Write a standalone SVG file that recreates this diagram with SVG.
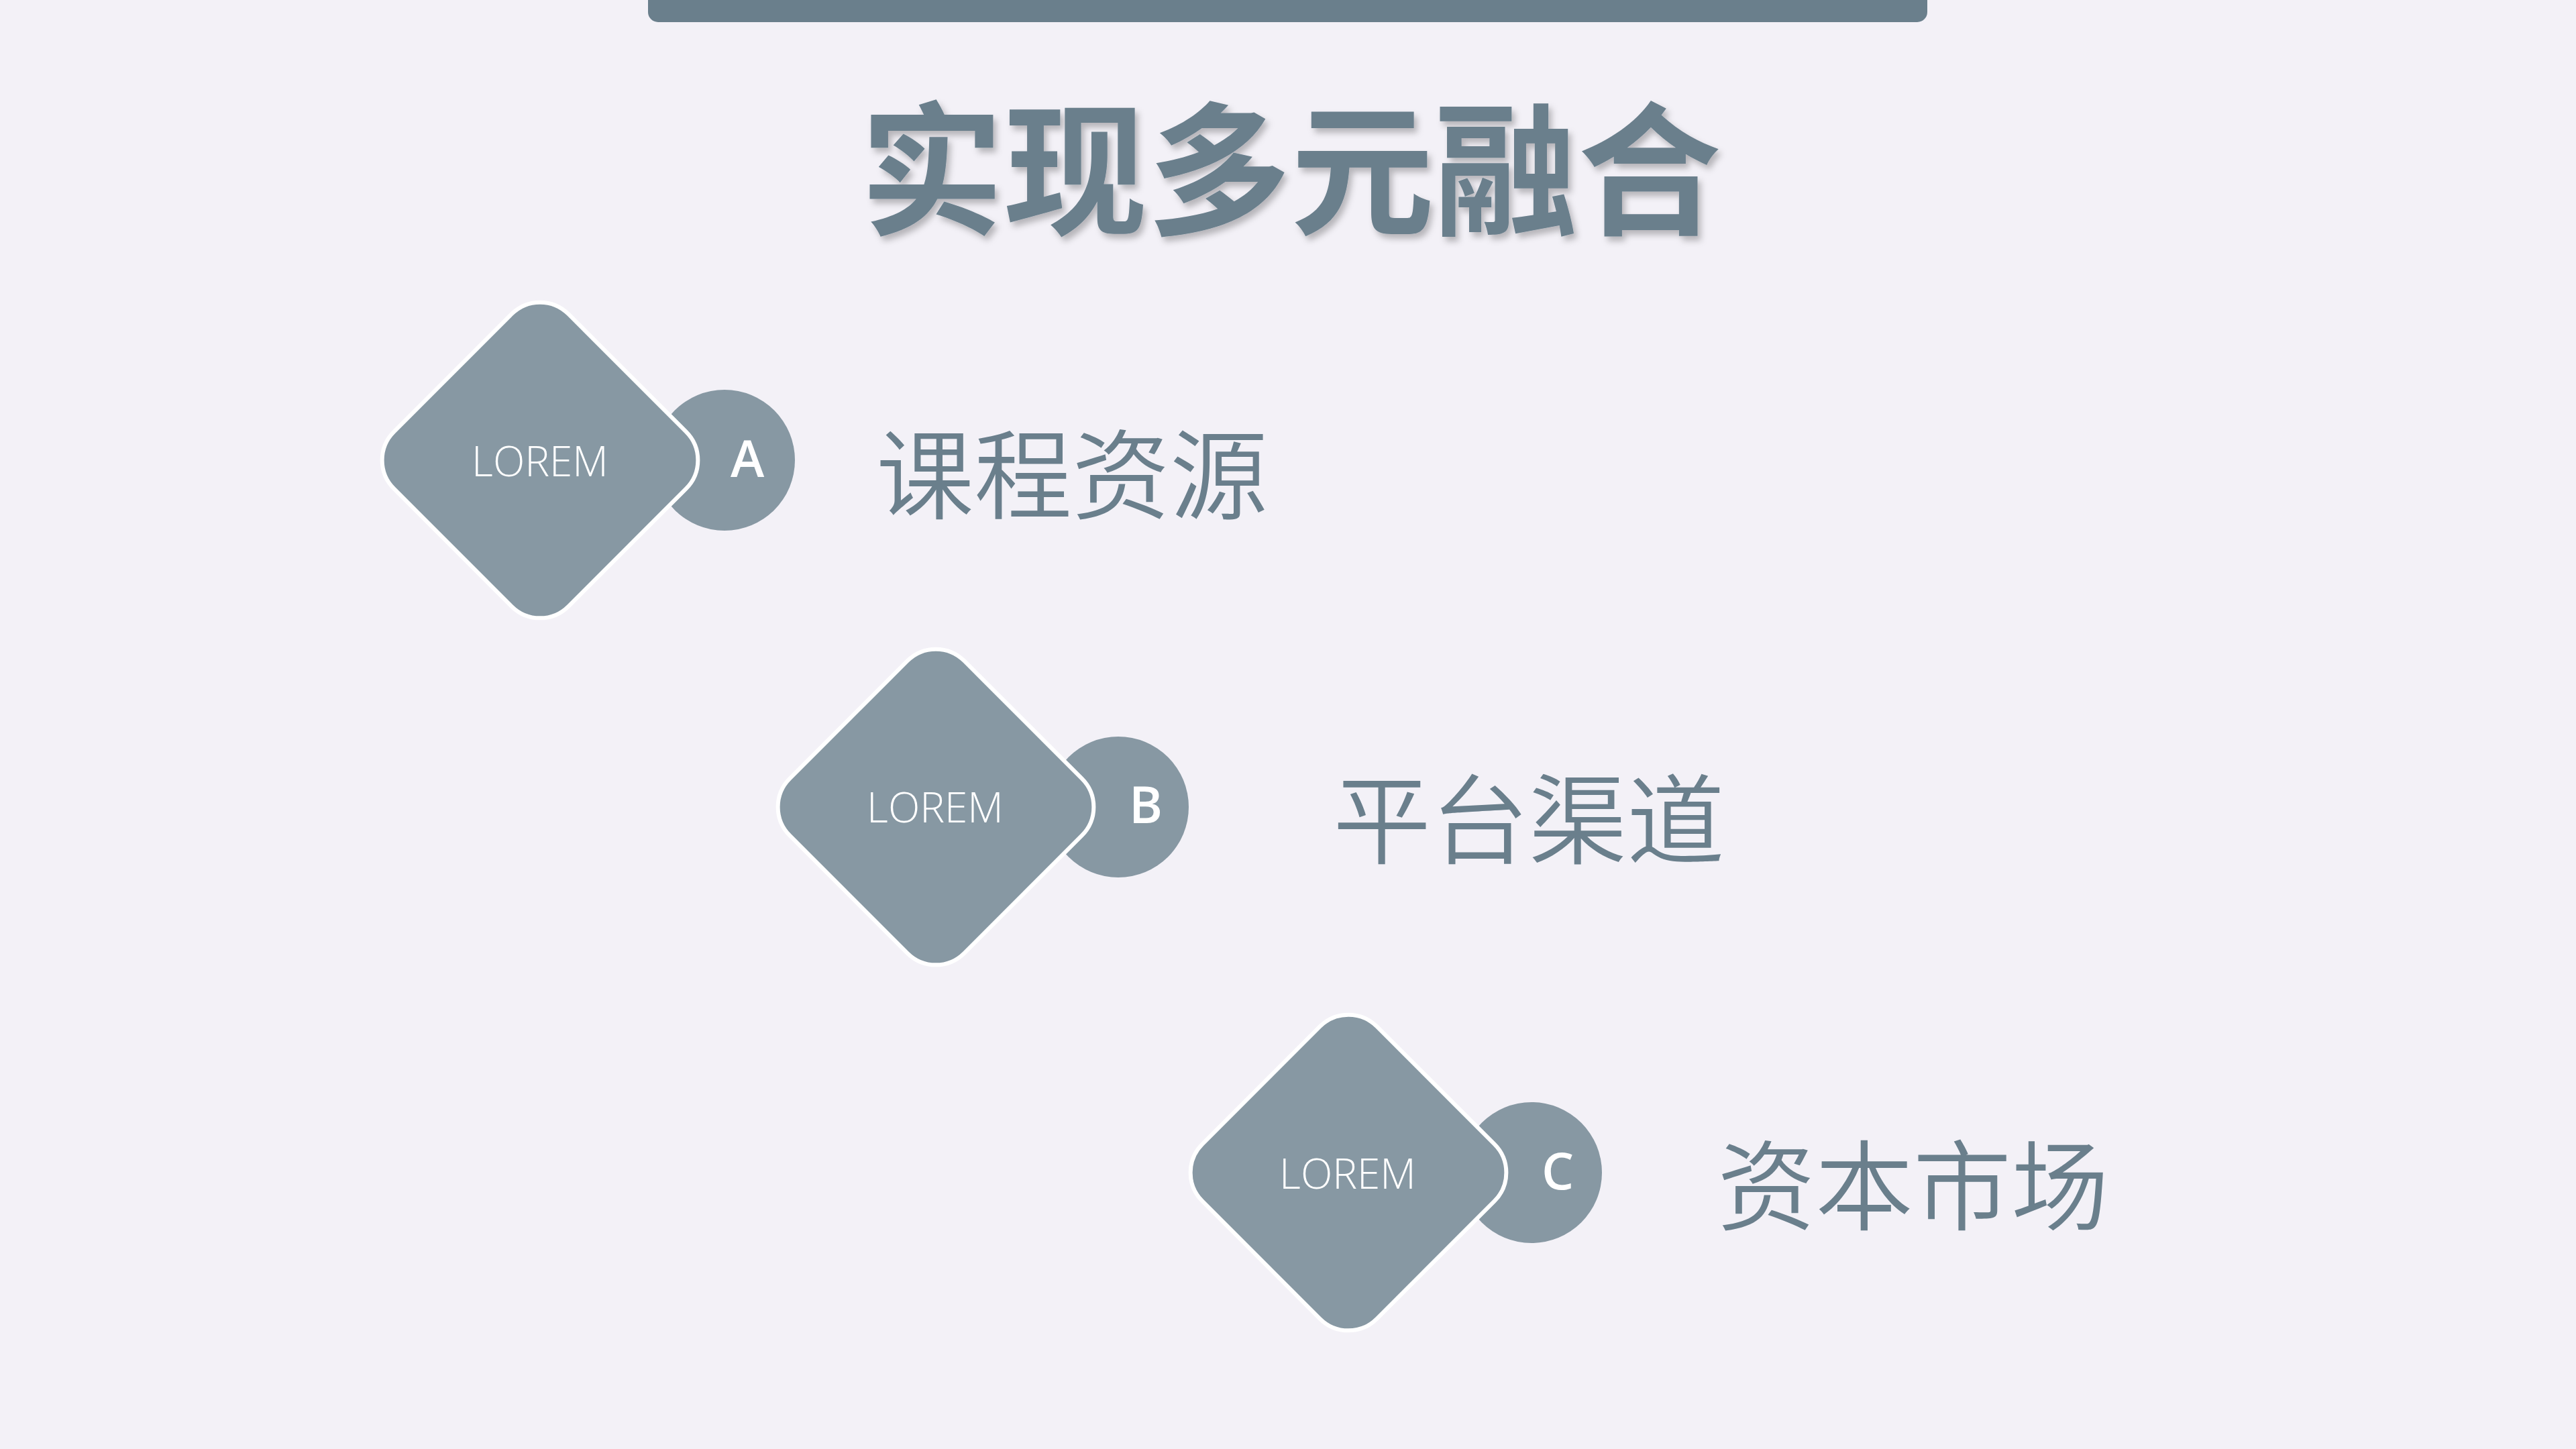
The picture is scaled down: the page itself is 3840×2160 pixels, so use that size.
<svg xmlns="http://www.w3.org/2000/svg" width="3840" height="2160" viewBox="0 0 3840 2160">
<defs>
<filter id="sh" x="-10%" y="-20%" width="120%" height="150%">
<feDropShadow dx="5" dy="7" stdDeviation="5" flood-color="#000" flood-opacity="0.25"/>
</filter>
<style>
.dia{fill:#8798A3;stroke:#FFFFFF;stroke-width:6}
.cir{fill:#8798A3}
.lorem{font-family:"Open Sans","Noto Sans",sans-serif;font-weight:300;font-size:62px;fill:#FFFFFF;text-anchor:middle}
.let{font-family:"Open Sans","Noto Sans",sans-serif;font-weight:600;font-size:76px;fill:#FFFFFF;text-anchor:middle}
.lab{font-family:"Noto Sans CJK SC","Noto Sans",sans-serif;font-weight:350;font-size:146px;fill:#6A7F8C}
.title{font-family:"Noto Sans CJK SC",sans-serif;font-weight:700;font-size:214px;fill:#6A7F8C;text-anchor:middle}
</style>
</defs>
<rect width="3840" height="2160" fill="#F3F1F7"/>
<rect x="966" y="-30" width="1907" height="63" rx="15" fill="#6A7F8C"/>
<text class="title" x="1924" y="333" filter="url(#sh)">实现多元融合</text>
<g id="connectors"></g>
<g id="nodeA">
<circle class="cir" cx="1080" cy="686" r="105"/>
<rect class="dia" x="-184" y="-184" width="368" height="368" rx="60" transform="translate(805 686) rotate(45)"/>
<text class="lorem" x="805" y="710">LOREM</text>
<text class="let" x="1114" y="711">A</text>
<text class="lab" x="1306" y="762">课程资源</text>
</g>
<g id="nodeB">
<circle class="cir" cx="1667" cy="1203" r="105"/>
<rect class="dia" x="-184" y="-184" width="368" height="368" rx="60" transform="translate(1395 1203) rotate(45)"/>
<text class="lorem" x="1394" y="1226">LOREM</text>
<text class="let" x="1708" y="1227">B</text>
<text class="lab" x="1987" y="1276">平台渠道</text>
</g>
<g id="nodeC">
<circle class="cir" cx="2283" cy="1748" r="105"/>
<rect class="dia" x="-184" y="-184" width="368" height="368" rx="60" transform="translate(2010 1748) rotate(45)"/>
<text class="lorem" x="2009" y="1772">LOREM</text>
<text class="let" x="2322" y="1773">C</text>
<text class="lab" x="2560" y="1822">资本市场</text>
</g>
</svg>
